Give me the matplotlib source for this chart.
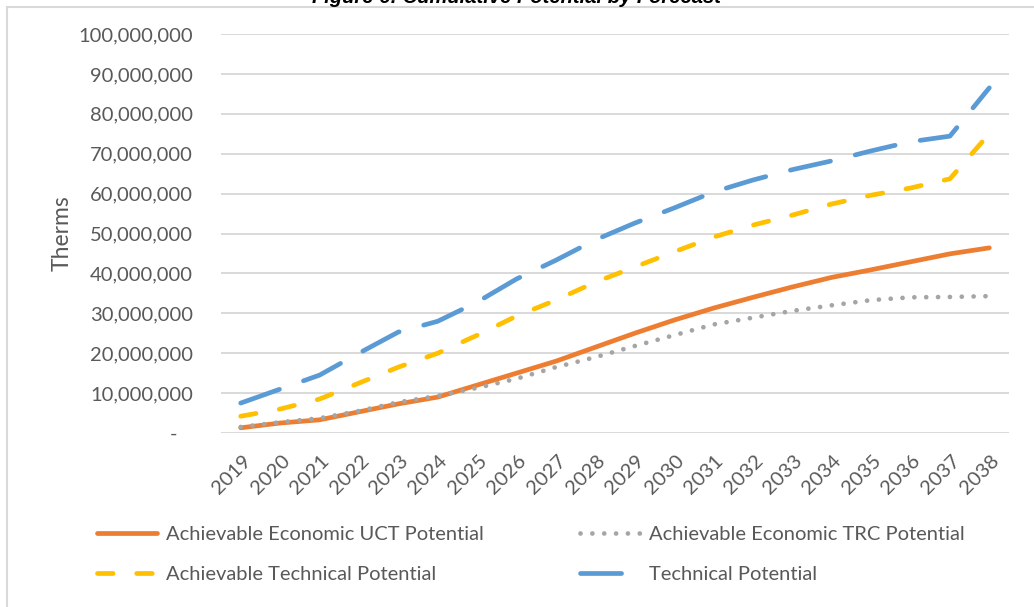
import matplotlib
matplotlib.use("Agg")
import matplotlib.pyplot as plt
import matplotlib.transforms as mtransforms
from matplotlib.patches import Rectangle
from matplotlib.ticker import FuncFormatter, MultipleLocator

plt.rcParams['font.family'] = ['Lato', 'DejaVu Sans']

years = [str(y) for y in range(2019, 2039)]

# cumulative savings, therms
uct_potential = [1300000, 2500000, 3300000, 5300000, 7300000, 9000000, 12000000,
                 15000000, 18000000, 21500000, 25000000, 28300000, 31300000,
                 34000000, 36600000, 39000000, 40900000, 42900000, 44900000, 46400000]
trc_potential = [1500000, 2700000, 3700000, 5500000, 7700000, 9300000, 11300000,
                 13600000, 16500000, 19000000, 21800000, 24500000, 27200000,
                 28900000, 30600000, 32000000, 33300000, 34000000, 34100000, 34300000]
achievable_technical = [4200000, 6000000, 8500000, 12500000, 16500000, 20000000,
                        24500000, 29300000, 33300000, 37800000, 41600000, 45400000,
                        49100000, 52100000, 54600000, 57400000, 59600000, 61400000,
                        63700000, 75000000]
technical = [7500000, 11000000, 14500000, 20000000, 25300000, 28000000, 32800000,
             38600000, 43300000, 48400000, 52600000, 56400000, 60400000, 63400000,
             66000000, 68200000, 70700000, 73000000, 74400000, 86500000]

text_grey = '#595959'
fs = 14.5
W, H = 1034, 607
fig = plt.figure(figsize=(W / 100, H / 100), dpi=100)
ax = fig.add_axes([221 / W, 1 - 433 / H, (1009 - 221) / W, (433 - 34) / H])

x = list(range(len(years)))
lw = 3.4
l_uct, = ax.plot(x, uct_potential, color='#ED7D31', lw=lw, solid_capstyle='round',
                 solid_joinstyle='round', label='Achievable Economic UCT Potential')
l_trc, = ax.plot(x, trc_potential, color='#A5A5A5', lw=lw, dash_capstyle='round',
                 dashes=(0.01, 2.5), label='Achievable Economic TRC Potential')
l_at, = ax.plot(x, achievable_technical, color='#FFC000', lw=lw, dash_capstyle='round',
                dashes=(3.3, 5.0), label='Achievable Technical Potential')
l_t, = ax.plot(x, technical, color='#5B9BD5', lw=lw, dash_capstyle='round',
               dashes=(8.7, 5.4), label='Technical Potential')

ax.set_xlim(-0.5, len(years) - 0.5)
ax.set_ylim(0, 100000000)
ax.yaxis.set_major_locator(MultipleLocator(10000000))
ax.yaxis.set_major_formatter(FuncFormatter(lambda v, p: '-   ' if v == 0 else f'{v:,.0f}'))
ax.grid(axis='y', color='#D9D9D9', lw=1.4)
ax.set_axisbelow(True)
for s in ax.spines.values():
    s.set_visible(False)

ax.tick_params(axis='y', length=0, pad=20, labelsize=fs, labelcolor=text_grey)
ax.set_xticks(x)
ax.set_xticklabels(years)
ax.tick_params(axis='x', length=0, pad=18, labelsize=fs, labelcolor=text_grey)
shift = mtransforms.ScaledTranslation(7 / 100, 0, fig.dpi_scale_trans)
for lab in ax.get_xticklabels():
    lab.set_rotation(45)
    lab.set_ha('right')
    lab.set_va('center')
    lab.set_rotation_mode('anchor')
    lab.set_transform(lab.get_transform() + shift)

ax.set_ylabel('Therms', fontsize=16.5, color=text_grey)
ax.yaxis.set_label_coords(73 / W, 1 - 233 / H, transform=fig.transFigure)

fig.legend(handles=[l_uct, l_at, l_trc, l_t], ncol=2, loc='upper left',
           bbox_to_anchor=(97 / W, 1 - 526 / H), frameon=False, fontsize=fs,
           labelcolor=text_grey, handlelength=3.0, handletextpad=0.45,
           columnspacing=4.75, labelspacing=1.15, borderpad=0, borderaxespad=0)

# outer chart frame
fig.patches.append(Rectangle((7 / W, -0.1), 1.2, 1.1 - 7 / H, transform=fig.transFigure,
                             fill=False, edgecolor='#D9D9D9', lw=1.5))

fig.text(0.5, 1 - 3 / H, 'Figure 6: Cumulative Potential by Forecast', ha='center',
         va='baseline', fontsize=14.5, fontweight='bold', fontstyle='italic',
         family='Liberation Sans')

fig.savefig('out.png', dpi=100)
